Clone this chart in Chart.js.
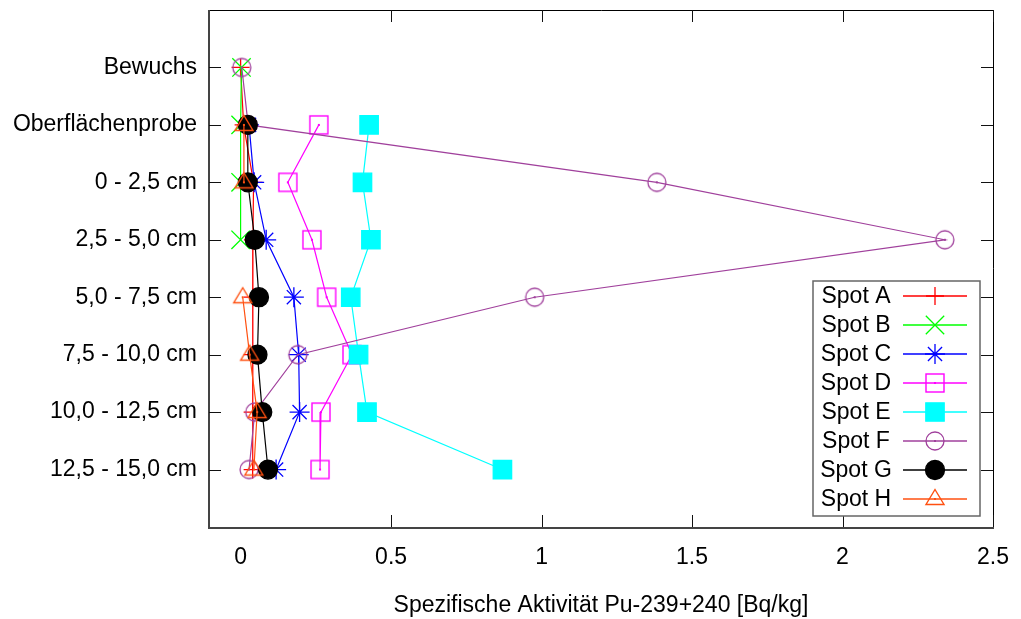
<!DOCTYPE html>
<html>
<head>
<meta charset="utf-8">
<script src="https://cdn.jsdelivr.net/npm/chart.js@4"></script>
<style>
  html, body { margin: 0; padding: 0; background: #fff; }
</style>
</head>
<body>
<canvas id="puChart" width="1021" height="619"></canvas>
<script>
// Depth levels (top to bottom) and x tick values
const depths = ['Bewuchs', 'Oberflächenprobe', '0 - 2,5 cm', '2,5 - 5,0 cm', '5,0 - 7,5 cm', '7,5 - 10,0 cm', '10,0 - 12,5 cm', '12,5 - 15,0 cm'];
const xTicks = [0, 0.5, 1, 1.5, 2, 2.5];

// Pu-239+240 activity per spot, Bq/kg (null = no sample)
const spotA = [0, 0.01, 0.043, 0.041, 0.041, 0.04, 0.04, 0.04];
const spotB = [0.003, 0, 0, 0, null, null, null, null];
const spotC = [null, 0.028, 0.045, 0.085, 0.177, 0.193, 0.196, 0.118];
const spotD = [null, 0.26, 0.157, 0.237, 0.286, 0.37, 0.267, 0.264];
const spotE = [null, 0.427, 0.405, 0.433, 0.366, 0.392, 0.42, 0.87];
const spotF = [0.004, 0.025, 1.383, 2.34, 0.977, 0.19, 0.047, 0.028];
const spotG = [null, 0.024, 0.024, 0.047, 0.061, 0.056, 0.072, 0.091];
const spotH = [null, 0.011, 0.011, null, 0.007, 0.03, 0.055, 0.044];

Chart.defaults.font.family = "'Liberation Sans', Arial, sans-serif";
Chart.defaults.color = '#000';

// small canvases for the hollow markers with a dot in the middle
function marker(draw) {
  const c = document.createElement('canvas');
  c.width = 24; c.height = 24;
  const g = c.getContext('2d');
  draw(g);
  return c;
}
const squareDot = marker(g => {
  g.strokeStyle = '#ff00ff'; g.lineWidth = 1.4;
  g.strokeRect(3, 3, 18, 18);
  g.fillStyle = '#ff00ff'; g.fillRect(11, 11, 2, 2);
});
const circleDot = marker(g => {
  g.strokeStyle = '#a0409c'; g.lineWidth = 1.3;
  g.beginPath(); g.arc(12, 12, 9, 0, Math.PI * 2); g.stroke();
  g.fillStyle = '#a0409c'; g.fillRect(11, 11, 2, 2);
});
const triangleDot = marker(g => {
  g.strokeStyle = '#ff5010'; g.lineWidth = 1.4;
  g.beginPath(); g.moveTo(12, 2.5); g.lineTo(21, 17.5); g.lineTo(3, 17.5); g.closePath(); g.stroke();
  g.fillStyle = '#ff5010'; g.fillRect(11, 11, 2, 2);
});

const spots = [
  { label: 'Spot A', values: spotA, color: '#ff0000', style: 'cross', radius: 9, fill: 'transparent' },
  { label: 'Spot B', values: spotB, color: '#00ff00', style: 'crossRot', radius: 13, fill: 'transparent' },
  { label: 'Spot C', values: spotC, color: '#0000ff', style: 'star', radius: 10, fill: 'transparent' },
  { label: 'Spot D', values: spotD, color: '#ff00ff', style: squareDot, radius: 12, fill: 'transparent' },
  { label: 'Spot E', values: spotE, color: '#00ffff', style: 'rect', radius: 13, fill: '#00ffff' },
  { label: 'Spot F', values: spotF, color: '#a0409c', style: circleDot, radius: 9, fill: 'transparent' },
  { label: 'Spot G', values: spotG, color: '#000000', style: 'circle', radius: 9.5, fill: '#000000' },
  { label: 'Spot H', values: spotH, color: '#ff5010', style: triangleDot, radius: 9, fill: 'transparent' }
];

// gnuplot-like frame: heavier left/bottom border, inward ticks on all sides
const framePlugin = {
  id: 'frame',
  beforeDatasetsDraw(chart) {
    const { ctx, chartArea: a, scales } = chart;
    ctx.save();
    ctx.strokeStyle = '#000';
    ctx.lineWidth = 1;
    ctx.beginPath();
    ctx.moveTo(a.left, a.top + 0.5); ctx.lineTo(a.right + 0.5, a.top + 0.5);
    ctx.lineTo(a.right + 0.5, a.bottom);
    ctx.stroke();
    ctx.strokeStyle = '#444';
    ctx.lineWidth = 2;
    ctx.beginPath();
    ctx.moveTo(a.left, a.top); ctx.lineTo(a.left, a.bottom + 1);
    ctx.lineTo(a.right + 1, a.bottom + 1);
    ctx.stroke();
    ctx.strokeStyle = '#111';
    ctx.lineWidth = 1;
    ctx.beginPath();
    scales.x.ticks.forEach(t => {
      if (t.value === 0) return;
      const px = Math.round(scales.x.getPixelForValue(t.value)) + 0.5;
      ctx.moveTo(px, a.bottom); ctx.lineTo(px, a.bottom - 12);
      ctx.moveTo(px, a.top); ctx.lineTo(px, a.top + 12);
    });
    scales.y.ticks.forEach(t => {
      const py = Math.round(scales.y.getPixelForValue(t.value)) + 0.5;
      ctx.moveTo(a.left, py); ctx.lineTo(a.left + 12, py);
      ctx.moveTo(a.right, py); ctx.lineTo(a.right - 12, py);
    });
    ctx.stroke();
    ctx.restore();
  }
};

// key box in the lower right: label, then a line sample with the marker
const keyPlugin = {
  id: 'key',
  afterDraw(chart) {
    const { ctx, chartArea: a } = chart;
    const right = a.right - 13, bottom = a.bottom - 11;
    const w = 167, rowH = 29;
    const h = rowH * spots.length + 3;
    const left = right - w, top = bottom - h;
    ctx.save();
    ctx.fillStyle = '#fff';
    ctx.fillRect(left, top, w, h);
    ctx.strokeStyle = '#666';
    ctx.lineWidth = 1.5;
    ctx.strokeRect(left, top, w, h);
    ctx.font = "23px 'Liberation Sans', Arial, sans-serif";
    ctx.textAlign = 'center';
    ctx.textBaseline = 'middle';
    spots.forEach((s, i) => {
      const y = top + 15 + i * rowH;
      ctx.fillStyle = '#000';
      ctx.fillText(s.label, left + 43, y + 1);
      ctx.strokeStyle = s.color;
      ctx.lineWidth = 1.3;
      ctx.beginPath();
      ctx.moveTo(left + 90, y); ctx.lineTo(left + 154, y);
      ctx.stroke();
      ctx.fillStyle = s.fill;
      Chart.helpers.drawPoint(ctx, { pointStyle: s.style, radius: s.radius, rotation: 0, borderWidth: 1.3 }, left + 122, y);
    });
    ctx.restore();
  }
};

new Chart(document.getElementById('puChart'), {
  type: 'line',
  data: {
    datasets: spots.map((s, i) => ({
      label: s.label,
      data: s.values.map((v, j) => ({ x: v, y: j + 1 })),
      borderColor: s.color,
      borderWidth: 1.2,
      pointStyle: s.style,
      pointRadius: s.radius,
      pointBorderColor: s.color,
      pointBackgroundColor: s.fill,
      pointBorderWidth: 1.3,
      spanGaps: false,
      tension: 0,
      order: spots.length - i
    }))
  },
  options: {
    responsive: false,
    animation: false,
    devicePixelRatio: 1,
    layout: { autoPadding: false, padding: { top: 10, right: 28, left: 0, bottom: 0 } },
    plugins: {
      legend: { display: false },
      tooltip: { enabled: false }
    },
    scales: {
      x: {
        type: 'linear',
        min: -0.105,
        max: 2.5,
        afterBuildTicks: s => { s.ticks = xTicks.map(v => ({ value: v })); },
        afterFit: s => {
          s.height = 92;
          s.paddingLeft = 0;
          s.paddingRight = 0;
        },
        grid: { display: false, drawTicks: false },
        border: { display: false },
        ticks: { font: { size: 23 }, padding: 17, maxRotation: 0, callback: v => String(v) },
        title: {
          display: true,
          text: 'Spezifische Aktivität Pu-239+240 [Bq/kg]',
          font: { size: 23 },
          padding: { top: 0, bottom: 0 }
        }
      },
      y: {
        type: 'linear',
        min: 0,
        max: 9,
        reverse: true,
        afterBuildTicks: s => { s.ticks = depths.map((d, i) => ({ value: i + 1 })); },
        afterFit: s => {
          s.width = 209;
          s.paddingTop = 0;
          s.paddingBottom = 0;
        },
        grid: { display: false, drawTicks: false },
        border: { display: false },
        ticks: { font: { size: 23 }, padding: 12, callback: v => depths[v - 1] }
      }
    }
  },
  plugins: [framePlugin, keyPlugin]
});
</script>
</body>
</html>
